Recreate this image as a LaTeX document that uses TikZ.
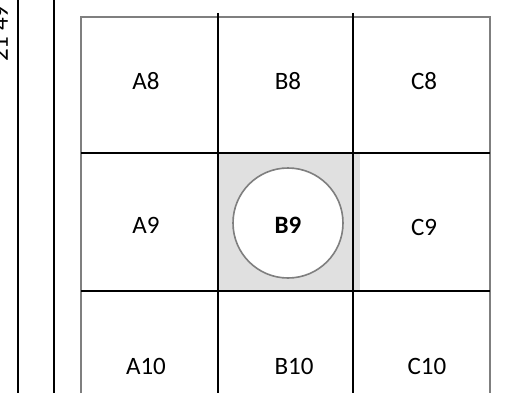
\documentclass[tikz,border=0pt]{standalone}
\usepackage{fontspec}
\setmainfont{Carlito}
\definecolor{framegray}{HTML}{7F7F7F}
\definecolor{cellgray}{HTML}{E0E0E0}
\begin{document}
\begin{tikzpicture}[x=1pt,y=-1pt,
  blk/.style={line width=2.4pt,black},
  gry/.style={line width=2.4pt,framegray},
  lbl/.style={font=\fontsize{25}{30}\selectfont,inner sep=0pt}]
\useasboundingbox (0,0) rectangle (505,393);
\clip (0,0) rectangle (505,393);
% left margin lines and label
\node[lbl,rotate=90,anchor=base west] (side) at (8,62) {21 49};
\draw[blk] (18,0) -- (18,393);
\draw[blk] (54,0) -- (54,393);
% shaded cell
\fill[cellgray] (218,153) rectangle (360,291);
% outer gray frame
\draw[gry] (81,393) -- (81,17) -- (490,17) -- (490,393);
% grid lines
\draw[blk] (218,13) -- (218,393);
\draw[blk] (353,13) -- (353,393);
\draw[blk] (81,153) -- (490,153);
\draw[blk] (81,291) -- (490,291);
% circle
\node[circle,draw=framegray,line width=1.6pt,fill=white,minimum size=110pt,inner sep=0pt] (circ) at (288,223) {};
% labels
\node[lbl] (A8) at (146,81) {A8};
\node[lbl] (B8) at (288,81) {B8};
\node[lbl] (C8) at (424,81) {C8};
\node[lbl] (A9) at (146,225) {A9};
\node[lbl,font=\fontsize{25}{30}\selectfont\bfseries] (B9) at (288,225) {B9};
\node[lbl] (C9) at (424,227) {C9};
\node[lbl] (A10) at (146,366) {A10};
\node[lbl] (B10) at (294,366) {B10};
\node[lbl] (C10) at (427,366) {C10};
\end{tikzpicture}
\end{document}
